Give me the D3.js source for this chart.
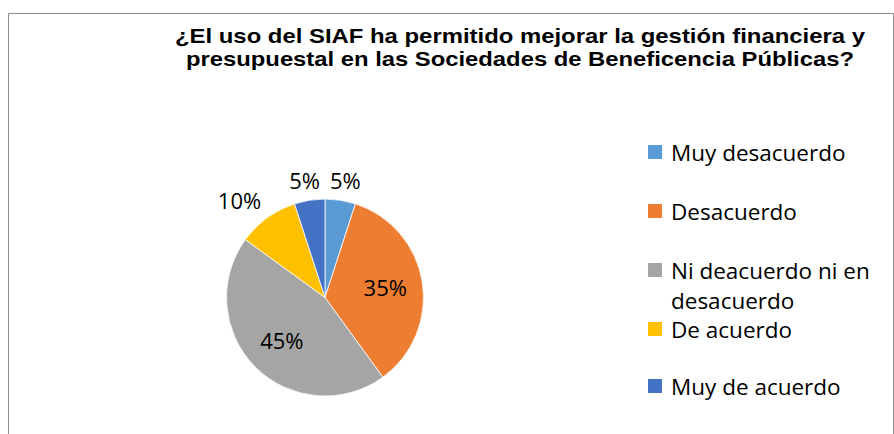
<!DOCTYPE html>
<html>
<head>
<meta charset="utf-8">
<script src="https://cdn.jsdelivr.net/npm/d3@7"></script>
<style>
  body { margin: 0; background: #fff; }
</style>
</head>
<body>
<div id="chart"></div>
<script>
const categories = ['Muy desacuerdo', 'Desacuerdo', 'Ni deacuerdo ni en desacuerdo', 'De acuerdo', 'Muy de acuerdo'];
const values = [5, 35, 45, 10, 5];
const labels = ['5%', '35%', '45%', '10%', '5%'];
const legendLines = [['Muy desacuerdo'], ['Desacuerdo'], ['Ni deacuerdo ni en', 'desacuerdo'], ['De acuerdo'], ['Muy de acuerdo']];
const titleLines = ['¿El uso del SIAF ha permitido mejorar la gestión financiera y',
    'presupuestal en las Sociedades de Beneficencia Públicas?'];
const colors = ['#5B9BD5', '#ED7D31', '#A5A5A5', '#FFC000', '#4472C4'];

const width = 894;
const height = 434;

const svg = d3.select('#chart')
    .append('svg')
    .attr('width', width)
    .attr('height', height);

// chart frame (bottom edge is cut off in the original)
svg.append('path')
    .attr('d', `M8.5,${height + 2} V13.5 H893.5 V${height + 2}`)
    .attr('fill', 'none')
    .attr('stroke', '#8c8c8c')
    .attr('stroke-width', 1);

// the original is stretched a bit horizontally, so the title lines get a fixed length
const titleLen = [690, 668];
svg.append('g')
    .selectAll('text')
    .data(titleLines)
    .join('text')
    .attr('x', 520)
    .attr('y', (d, i) => 43 + i * 23)
    .attr('text-anchor', 'middle')
    .attr('font-family', 'Liberation Sans, Arial, sans-serif')
    .attr('font-weight', 'bold')
    .attr('font-size', 20.5)
    .attr('textLength', (d, i) => titleLen[i])
    .attr('lengthAdjust', 'spacingAndGlyphs')
    .attr('fill', '#000')
    .text(d => d);

const radius = 98.5;
const cx = 325, cy = 297.5;

const pie = d3.pie().sort(null).value(d => d);
const arcs = pie(values);
const arc = d3.arc().innerRadius(0).outerRadius(radius);
const inArc = d3.arc().innerRadius(61).outerRadius(61);

const g = svg.append('g').attr('transform', `translate(${cx},${cy})`);

g.selectAll('path')
    .data(arcs)
    .join('path')
    .attr('d', arc)
    .attr('fill', (d, i) => colors[i])
    .attr('stroke', '#fff')
    .attr('stroke-width', 0.8);

const lbl = g.selectAll('text')
    .data(arcs)
    .join('text')
    .attr('text-anchor', 'middle')
    .attr('dy', '0.36em')
    .attr('font-family', 'Open Sans, sans-serif')
    .attr('font-size', 22)
    .attr('fill', '#000')
    .text((d, i) => labels[i]);

// outside labels: the box side nearest the pie touches the mid-angle ray
lbl.attr('transform', function (d) {
    let p;
    if (d.value >= 20) {
        p = inArc.centroid(d);
    } else {
        const a = (d.startAngle + d.endAngle) / 2;
        const s = Math.sin(a), c = -Math.cos(a);
        const hw = this.getComputedTextLength() / 2, hh = 9;
        const r0 = 108.5;
        const fx = Math.min(1, 1.4 * Math.abs(s) / Math.abs(c));
        p = [r0 * s + Math.sign(s) * hw * fx, r0 * c + Math.sign(c) * hh];
    }
    return `translate(${p[0]},${p[1]})`;
});

const legendY = [152, 211, 270, 329, 386];
const legend = svg.append('g');
const items = legend.selectAll('g')
    .data(categories)
    .join('g')
    .attr('transform', (d, i) => `translate(648,${legendY[i]})`);

items.append('rect')
    .attr('x', 0)
    .attr('y', -7)
    .attr('width', 14)
    .attr('height', 14)
    .attr('fill', (d, i) => colors[i]);

items.append('text')
    .attr('font-family', 'Open Sans, sans-serif')
    .attr('font-size', 22.5)
    .attr('fill', '#000')
    .selectAll('tspan')
    .data((d, i) => legendLines[i])
    .join('tspan')
    .attr('x', 23)
    .attr('y', (d, i) => 8.5 + i * 30)
    .text(d => d);
</script>
</body>
</html>
